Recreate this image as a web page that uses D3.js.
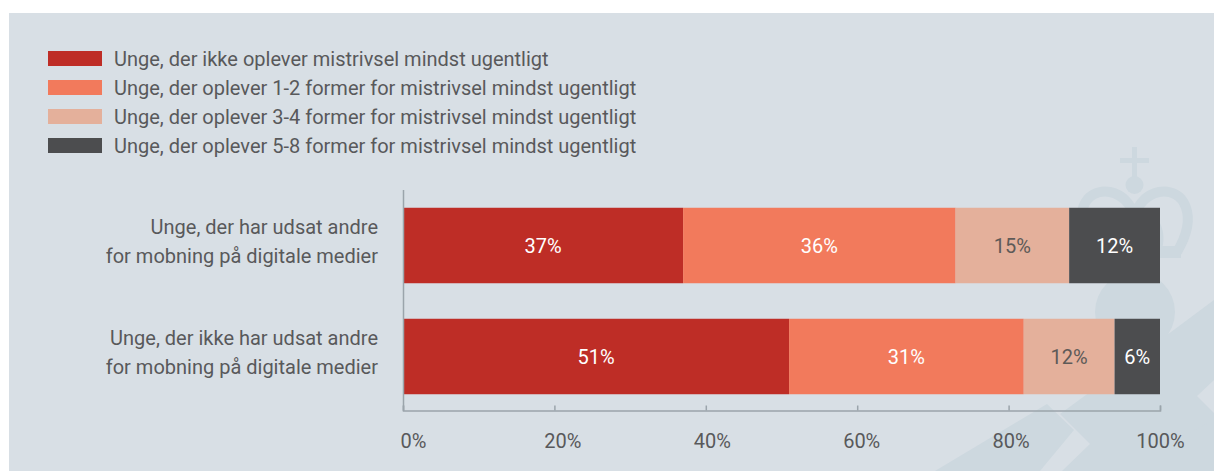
<!DOCTYPE html>
<html>
<head>
<meta charset="utf-8">
<script src="https://cdn.jsdelivr.net/npm/d3@7"></script>
<style>
  body { margin: 0; background: #fff; }
  svg { display: block; font-family: Roboto, "Open Sans", sans-serif; }
</style>
</head>
<body>
<div id="chart"></div>
<script>
// data
const groups = [
    ["Unge, der har udsat andre", "for mobning på digitale medier"],
    ["Unge, der ikke har udsat andre", "for mobning på digitale medier"]
];
const seriesNames = [
    "Unge, der ikke oplever mistrivsel mindst ugentligt",
    "Unge, der oplever 1-2 former for mistrivsel mindst ugentligt",
    "Unge, der oplever 3-4 former for mistrivsel mindst ugentligt",
    "Unge, der oplever 5-8 former for mistrivsel mindst ugentligt"
];
const none = [37, 51];
const forms12 = [36, 31];
const forms34 = [15, 12];
const forms58 = [12, 6];
const xTicks = [0, 20, 40, 60, 80, 100];

const colors = ["#be2d26", "#f27a5c", "#e4b09b", "#4c4d4f"];
const labelColors = ["#ffffff", "#ffffff", "#5e5a58", "#ffffff"];
const textColor = "#58595b";
const axisColor = "#9ba4ab";

const W = 1214, H = 471;

const table = groups.map((g, i) => ({
    key: i,
    lines: g,
    s0: none[i], s1: forms12[i], s2: forms34[i], s3: forms58[i]
}));
const keys = ["s0", "s1", "s2", "s3"];
const stacked = d3.stack().keys(keys)(table);

const svg = d3.select("#chart").append("svg")
    .attr("width", W)
    .attr("height", H);

// grey panel
svg.append("rect")
    .attr("x", 9).attr("y", 13)
    .attr("width", W - 9).attr("height", H - 13)
    .attr("fill", "#d8dfe5");

// faint crown watermark
const wm = svg.append("g").attr("fill", "#cdd8df").attr("stroke", "#cdd8df");
wm.append("path")
    .attr("stroke", "none")
    .attr("d", "M935,471 L1047,404 L1074,430 L1040,471 Z");
wm.append("path")
    .attr("stroke", "none")
    .attr("d", "M1062,471 L1090,444 L1060,414 L1120,370 L1214,300 L1214,380 L1197,396 L1214,413 L1214,471 Z");
wm.append("path")
    .attr("stroke", "none")
    .attr("d", "M1185,471 L1160,448 L1214,420 L1214,471 Z");
wm.append("circle").attr("stroke", "none").attr("cx", 1135).attr("cy", 312).attr("r", 40);
wm.append("rect").attr("stroke", "none").attr("x", 1127).attr("y", 250).attr("width", 16).attr("height", 40);
wm.append("rect").attr("stroke", "none").attr("x", 1132).attr("y", 147).attr("width", 5).attr("height", 30);
wm.append("rect").attr("stroke", "none").attr("x", 1120).attr("y", 158).attr("width", 29).attr("height", 5);
wm.append("circle").attr("stroke", "none").attr("cx", 1134.5).attr("cy", 185).attr("r", 9);
wm.append("path")
    .attr("fill", "none")
    .attr("stroke-width", 10)
    .attr("d", "M1092,252 C1070,215 1085,188 1110,192 C1124,195 1130,205 1134.5,214 C1139,205 1145,195 1159,192 C1184,188 1199,215 1177,252");
wm.append("path")
    .attr("fill", "none")
    .attr("stroke-width", 8)
    .attr("d", "M1112,252 C1104,228 1118,210 1134.5,214 C1151,210 1165,228 1157,252");
wm.append("rect").attr("stroke", "none").attr("x", 1088).attr("y", 246).attr("width", 93).attr("height", 12);

const x = d3.scaleLinear().domain([0, 100]).range([403, 1160]);
const y = d3.scaleBand()
    .domain(table.map(d => d.key))
    .range([190, 412])
    .paddingInner(0.32)
    .paddingOuter(0.16);

// legend
const legend = svg.append("g").selectAll("g")
    .data(seriesNames)
    .enter().append("g")
    .attr("transform", (d, i) => "translate(48," + (51 + i * 29) + ")");
legend.append("rect")
    .attr("width", 54).attr("height", 15)
    .attr("fill", (d, i) => colors[i]);
legend.append("text")
    .attr("x", 66).attr("y", 7.5)
    .attr("dy", "0.36em")
    .attr("fill", textColor)
    .style("font-size", "20px")
    .text(d => d);

// bars
const layer = svg.selectAll(".layer")
    .data(stacked)
    .enter().append("g")
    .attr("class", "layer");

layer.selectAll("rect")
    .data(d => d)
    .enter().append("rect")
    .attr("x", d => x(d[0]))
    .attr("y", d => y(d.data.key))
    .attr("width", d => x(d[1]) - x(d[0]))
    .attr("height", y.bandwidth())
    .attr("fill", function () { return colors[d3.select(this.parentNode).datum().index]; });

layer.selectAll("text")
    .data(d => d.map(v => ({ v, i: d.index })))
    .enter().append("text")
    .attr("x", d => (x(d.v[0]) + x(d.v[1])) / 2)
    .attr("y", d => y(d.v.data.key) + y.bandwidth() / 2)
    .attr("dy", "0.36em")
    .attr("text-anchor", "middle")
    .attr("fill", d => labelColors[d.i])
    .style("font-size", "20px")
    .text(d => Math.round(d.v[1] - d.v[0]) + "%");

// category labels
const cat = svg.append("g").selectAll("text")
    .data(table)
    .enter().append("text")
    .attr("text-anchor", "end")
    .attr("fill", textColor)
    .style("font-size", "20px")
    .attr("y", d => y(d.key) + y.bandwidth() / 2);
cat.selectAll("tspan")
    .data(d => d.lines)
    .enter().append("tspan")
    .attr("x", 378)
    .attr("dy", (d, i) => i === 0 ? "-0.58em" : "1.46em")
    .text(d => d);

// axes
svg.append("line")
    .attr("x1", 403.5).attr("x2", 403.5)
    .attr("y1", 190).attr("y2", 411)
    .attr("stroke", axisColor).attr("stroke-width", 1.5);

const xAxis = svg.append("g")
    .attr("transform", "translate(0,410.5)")
    .call(d3.axisBottom(x).tickValues(xTicks).tickSize(-5).tickPadding(23).tickFormat(d => d + "%"));
xAxis.select(".domain").attr("stroke", axisColor).attr("stroke-width", 1.5);
xAxis.selectAll(".tick line").attr("stroke", axisColor).attr("stroke-width", 1.5);
xAxis.selectAll(".tick text")
    .attr("fill", textColor)
    .attr("dx", d => (1 - d / 100) * 10)
    .style("font-size", "20px")
    .style("font-family", "Roboto, sans-serif");
</script>
</body>
</html>
